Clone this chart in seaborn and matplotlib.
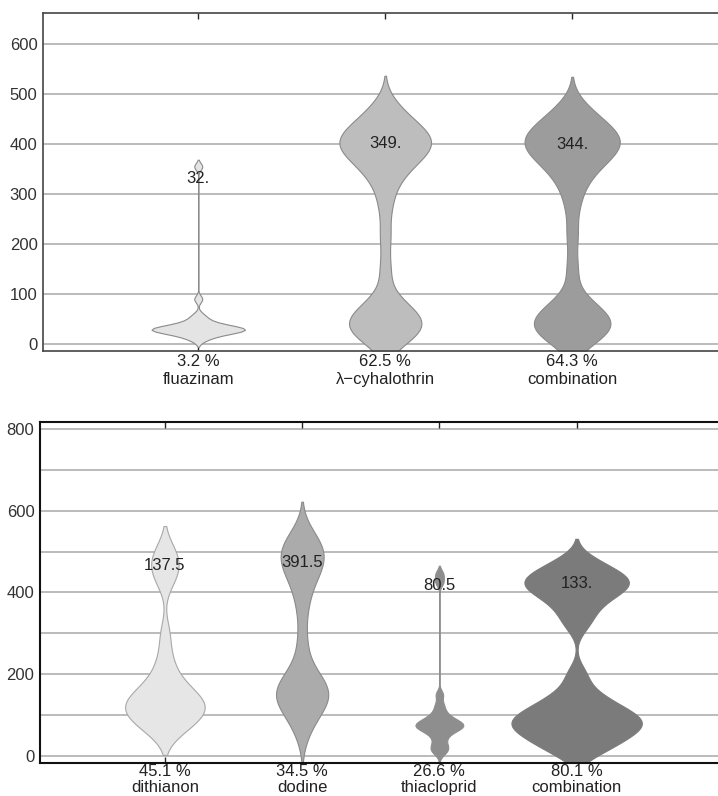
import matplotlib
matplotlib.use("Agg")
import matplotlib.pyplot as plt
from matplotlib.ticker import MultipleLocator
import seaborn as sns

# ---- data ----
top_names = ["fluazinam", "λ\u2212cyhalothrin", "combination"]
top_percent = ["3.2 %", "62.5 %", "64.3 %"]
top_medians = ["32.", "349.", "344."]
fluazinam = [8, 14, 18, 21, 23, 25, 26, 27, 28, 29, 30, 31, 32, 33, 35, 37, 40,
             44, 50, 58, 90, 355]
cyhalothrin = [4, 14, 22, 30, 36, 42, 48, 55, 63, 74, 92, 150, 215, 275, 315,
               338, 352, 364, 373, 381, 388, 394, 399, 404, 409, 415, 421, 428,
               436, 446, 460, 478]
combination_top = [4, 14, 22, 30, 36, 42, 48, 55, 63, 74, 92, 152, 218, 277,
                   314, 336, 351, 363, 372, 380, 388, 394, 399, 404, 410, 416,
                   422, 429, 437, 447, 460, 476]

bot_names = ["dithianon", "dodine", "thiacloprid", "combination"]
bot_percent = ["45.1 %", "34.5 %", "26.6 %", "80.1 %"]
bot_medians = ["137.5", "391.5", "80.5", "133."]
dithianon = [55, 68, 78, 88, 96, 104, 110, 116, 122, 128, 134, 141, 149, 158,
             170, 186, 210, 245, 300, 425, 450, 468, 485, 510]
dodine = [60, 95, 115, 130, 140, 148, 156, 165, 176, 192, 215, 280, 360, 410,
          440, 458, 472, 485, 497, 510, 525, 540]
thiacloprid = [8, 18, 26, 40, 52, 60, 65, 69, 72, 75, 78, 81, 85, 90, 97, 108,
               125, 150, 425, 445]
combination_bot = [5, 20, 32, 42, 52, 60, 67, 74, 80, 86, 92, 99, 107, 116,
                   127, 140, 160, 200, 320, 350, 372, 390, 401, 410, 418, 425,
                   432, 440, 450, 462, 480]

top_series = [fluazinam, cyhalothrin, combination_top]
bot_series = [dithianon, dodine, thiacloprid, combination_bot]

# styling per violin
top_colors = ["#e4e4e4", "#bdbdbd", "#9c9c9c"]
top_widths = [0.50, 0.49, 0.51]
top_bw = [0.18, 0.34, 0.34]
top_cut = [2, 2, 2]
top_label_y = [332, 402, 400]

bot_colors = ["#e6e6e6", "#ababab", "#8e8e8e", "#7b7b7b"]
bot_edges = ["#a8a8a8", "#8a8a8a", "#8e8e8e", "#7b7b7b"]
bot_widths = [0.58, 0.38, 0.35, 0.95]
bot_bw = [0.42, 0.45, 0.16, 0.30]
bot_cut = [1.6, 2, 2, 2]
bot_label_y = [465, 474, 416, 423]

sns.set_style("white")
plt.rcParams["font.family"] = ["Liberation Sans", "DejaVu Sans"]
plt.rcParams["font.size"] = 12

fig = plt.figure(figsize=(7.18, 7.96), dpi=100)
ax1 = fig.add_axes([0.060, 0.559, 0.94, 0.4246])
ax2 = fig.add_axes([0.0557, 0.0415, 0.9443, 0.4284])


def draw(ax, names, series, colors, edges, widths, bws, cuts):
    for name, vals, c, e, w, bw, ct in zip(names, series, colors, edges,
                                          widths, bws, cuts):
        sns.violinplot(x=[name] * len(vals), y=vals, order=names, ax=ax,
                       color=c, saturation=1, width=w, inner=None, cut=ct,
                       bw_adjust=bw, density_norm="width", linecolor=e,
                       linewidth=0.8)


draw(ax1, top_names, top_series, top_colors, ["#8a8a8a"] * 3, top_widths,
     top_bw, top_cut)
draw(ax2, bot_names, bot_series, bot_colors, bot_edges, bot_widths, bot_bw,
     bot_cut)

for ax, names, pct, med, ly, ylim, xlim, step, lsp, pad in [
        (ax1, top_names, top_percent, top_medians, top_label_y, (-14, 662), (-0.83, 2.78), 100, 1.3, 2),
        (ax2, bot_names, bot_percent, bot_medians, bot_label_y, (-17, 817), (-0.91, 4.03), 200, 1.05, 1)]:
    ax.set_ylim(*ylim)
    ax.set_xlim(*xlim)
    ax.set_xlabel("")
    ax.set_ylabel("")
    ax.set_xticks(range(len(names)))
    ax.set_xticklabels([f"{p}\n{n}" for p, n in zip(pct, names)],
                       color="#222222", linespacing=lsp)
    ax.yaxis.set_major_locator(MultipleLocator(step))
    ax.yaxis.set_minor_locator(MultipleLocator(20 if step == 100 else 100))
    for g in range(0, 900, 100):
        ax.axhline(g, color="#a8a8a8", lw=1.1, zorder=0)
    for i, t in enumerate(med):
        ax.text(i, ly[i], t, ha="center", va="center", fontsize=12,
                color="#222222", zorder=5)
    ax.spines["right"].set_visible(False)
    ax.tick_params(axis="y", which="major", direction="out", length=3,
                   width=1, colors="#333333", labelsize=12, pad=1)
    ax.tick_params(axis="y", which="minor", direction="out", length=2,
                   width=0.8, colors="#333333")
    ax.tick_params(axis="x", which="major", direction="in", length=4,
                   width=1, top=True, bottom=True, pad=pad, labelsize=12)
    ax.set_axisbelow(True)

for sp in ["left", "top", "bottom"]:
    ax1.spines[sp].set_color("#444444")
    ax1.spines[sp].set_linewidth(1.2)
    ax2.spines[sp].set_color("#111111")
    ax2.spines[sp].set_linewidth(1.5)

fig.savefig("out.png", dpi=100)
